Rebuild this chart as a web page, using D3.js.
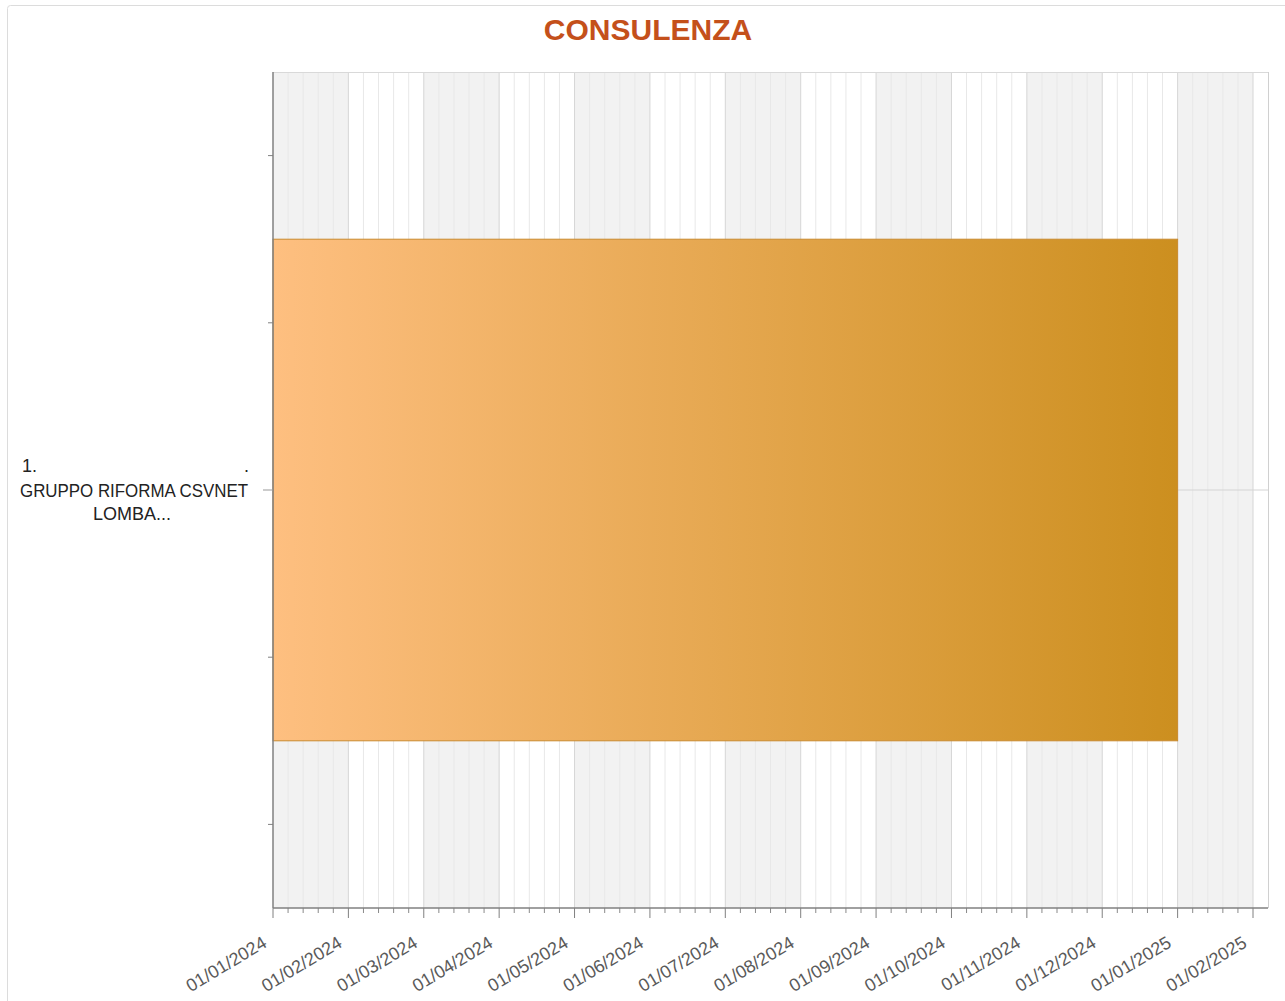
<!DOCTYPE html>
<html>
<head>
<meta charset="utf-8">
<script src="https://cdn.jsdelivr.net/npm/d3@7"></script>
<style>
  body { margin: 0; background: #fff; }
  svg { display: block; font-family: "Liberation Sans", Arial, sans-serif; }
</style>
</head>
<body>
<svg id="chart" width="1285" height="1001"></svg>
<script>
// chart data
var title = "CONSULENZA";
var tasks = ["1. GRUPPO RIFORMA CSVNET LOMBA..."];
var taskStart = ["2024-01-01"];
var taskEnd = ["2025-01-01"];
// month ticks shown on the x axis
var monthTicks = ["2024-01-01", "2024-02-01", "2024-03-01", "2024-04-01", "2024-05-01",
  "2024-06-01", "2024-07-01", "2024-08-01", "2024-09-01", "2024-10-01",
  "2024-11-01", "2024-12-01", "2025-01-01", "2025-02-01"];
var axisEnd = "2025-02-07";

var parse = d3.timeParse("%Y-%m-%d");
var fmt = d3.timeFormat("%d/%m/%Y");

var svg = d3.select("#chart");
// plot box (note: "top" is taken by window.top, so use other names)
var pLeft = 273, pRight = 1268, pTop = 72, pBottom = 908;

// outer frame
svg.append("rect").attr("x", 7.5).attr("y", 5.5).attr("width", 1290).attr("height", 1010)
  .attr("rx", 3).attr("fill", "none").attr("stroke", "#dcdcdc");

// title
svg.append("text").attr("x", 648).attr("y", 40).attr("text-anchor", "middle")
  .attr("font-size", 30).attr("font-weight", "bold").attr("fill", "#c4501b")
  .text(title);

// x scale: every month gets the same width, like the original chart
var monthDates = monthTicks.map(parse);
var step = (1253 - pLeft) / (monthDates.length - 1);
var x = d3.scaleTime()
  .domain(monthDates.concat([parse(axisEnd)]))
  .range(monthDates.map(function(d, i) { return pLeft + i * step; }).concat([pRight]));

var y = d3.scaleBand().domain(tasks).range([pTop, pBottom]).paddingInner(0.4).paddingOuter(0.2);
var yLin = d3.scaleLinear().domain([-0.5, 0.5]).range([pTop, pBottom]);

var grid = svg.append("g");

// alternating month bands
for (var i = 0; i < monthDates.length; i++) {
  var x0 = x(monthDates[i]);
  var x1 = i < monthDates.length - 1 ? x(monthDates[i + 1]) : pRight;
  if (i % 2 == 0) {
    grid.append("rect").attr("x", x0).attr("y", pTop).attr("width", x1 - x0).attr("height", pBottom - pTop)
      .attr("fill", "#f2f2f2");
  }
  // minor lines, 5 per month
  for (var k = 1; k < 5; k++) {
    var xm = x0 + k * step / 5;
    if (xm >= pRight) break;
    grid.append("line").attr("x1", xm).attr("x2", xm).attr("y1", pTop).attr("y2", pBottom)
      .attr("stroke", "#e8e8e8").attr("stroke-width", 1);
    svg.append("line").attr("x1", xm).attr("x2", xm).attr("y1", pBottom).attr("y2", pBottom + 5)
      .attr("stroke", "#8a8a8a");
  }
  if (i > 0) {
    grid.append("line").attr("x1", x0).attr("x2", x0).attr("y1", pTop).attr("y2", pBottom)
      .attr("stroke", "#d6d6d6").attr("stroke-width", 1);
  }
}

// top and right border of plot
grid.append("line").attr("x1", pLeft).attr("x2", pRight).attr("y1", pTop + 0.5).attr("y2", pTop + 0.5)
  .attr("stroke", "#d9d9d9");
grid.append("line").attr("x1", pRight + 0.5).attr("x2", pRight + 0.5).attr("y1", pTop).attr("y2", pBottom)
  .attr("stroke", "#d0d0d0");

// horizontal gridline at the category
grid.append("line").attr("x1", pLeft).attr("x2", pRight).attr("y1", yLin(0)).attr("y2", yLin(0))
  .attr("stroke", "#d4d4d4");

// bar gradient
var grad = svg.append("defs").append("linearGradient").attr("id", "barGrad")
  .attr("x1", "0%").attr("x2", "100%").attr("y1", "0%").attr("y2", "0%");
grad.append("stop").attr("offset", "0%").attr("stop-color", "#febf80");
grad.append("stop").attr("offset", "100%").attr("stop-color", "#cc8f1f");

svg.selectAll("rect.bar").data(tasks).enter().append("rect")
  .attr("class", "bar")
  .attr("x", function(d, i) { return x(parse(taskStart[i])); })
  .attr("y", function(d) { return y(d); })
  .attr("width", function(d, i) { return x(parse(taskEnd[i])) - x(parse(taskStart[i])); })
  .attr("height", y.bandwidth())
  .attr("fill", "url(#barGrad)")
  .attr("stroke", "#c98a30").attr("stroke-width", 1);

// axes lines
svg.append("line").attr("x1", pLeft).attr("x2", pLeft).attr("y1", pTop).attr("y2", pBottom)
  .attr("stroke", "#808080").attr("stroke-width", 1.5);
svg.append("line").attr("x1", pLeft).attr("x2", pRight).attr("y1", pBottom).attr("y2", pBottom)
  .attr("stroke", "#808080").attr("stroke-width", 1.5);

// x major ticks and labels
var xt = svg.append("g");
monthDates.forEach(function(d) {
  var px = x(d);
  xt.append("line").attr("x1", px).attr("x2", px).attr("y1", pBottom).attr("y2", pBottom + 10)
    .attr("stroke", "#808080");
  xt.append("text")
    .attr("transform", "translate(" + (px - 5) + "," + (pBottom + 38) + ") rotate(-31)")
    .attr("text-anchor", "end").attr("font-size", 18).attr("fill", "#5a5a5a")
    .text(fmt(d));
});

// y ticks
[-0.4, -0.2, 0.2, 0.4].forEach(function(v) {
  svg.append("line").attr("x1", pLeft - 5).attr("x2", pLeft).attr("y1", yLin(v)).attr("y2", yLin(v))
    .attr("stroke", "#808080");
});
svg.append("line").attr("x1", pLeft - 10).attr("x2", pLeft).attr("y1", yLin(0)).attr("y2", yLin(0))
  .attr("stroke", "#999");

// y label, wrapped like the original
var lab = svg.append("g").attr("font-size", 18).attr("fill", "#222");
lab.append("text").attr("x", 22).attr("y", 472).text("1.");
lab.append("text").attr("x", 244).attr("y", 472).text(".");
lab.append("text").attr("x", 20).attr("y", 497).attr("textLength", 228).attr("lengthAdjust", "spacingAndGlyphs")
  .text("GRUPPO RIFORMA CSVNET");
lab.append("text").attr("x", 132).attr("y", 520).attr("text-anchor", "middle").text("LOMBA...");
</script>
</body>
</html>
